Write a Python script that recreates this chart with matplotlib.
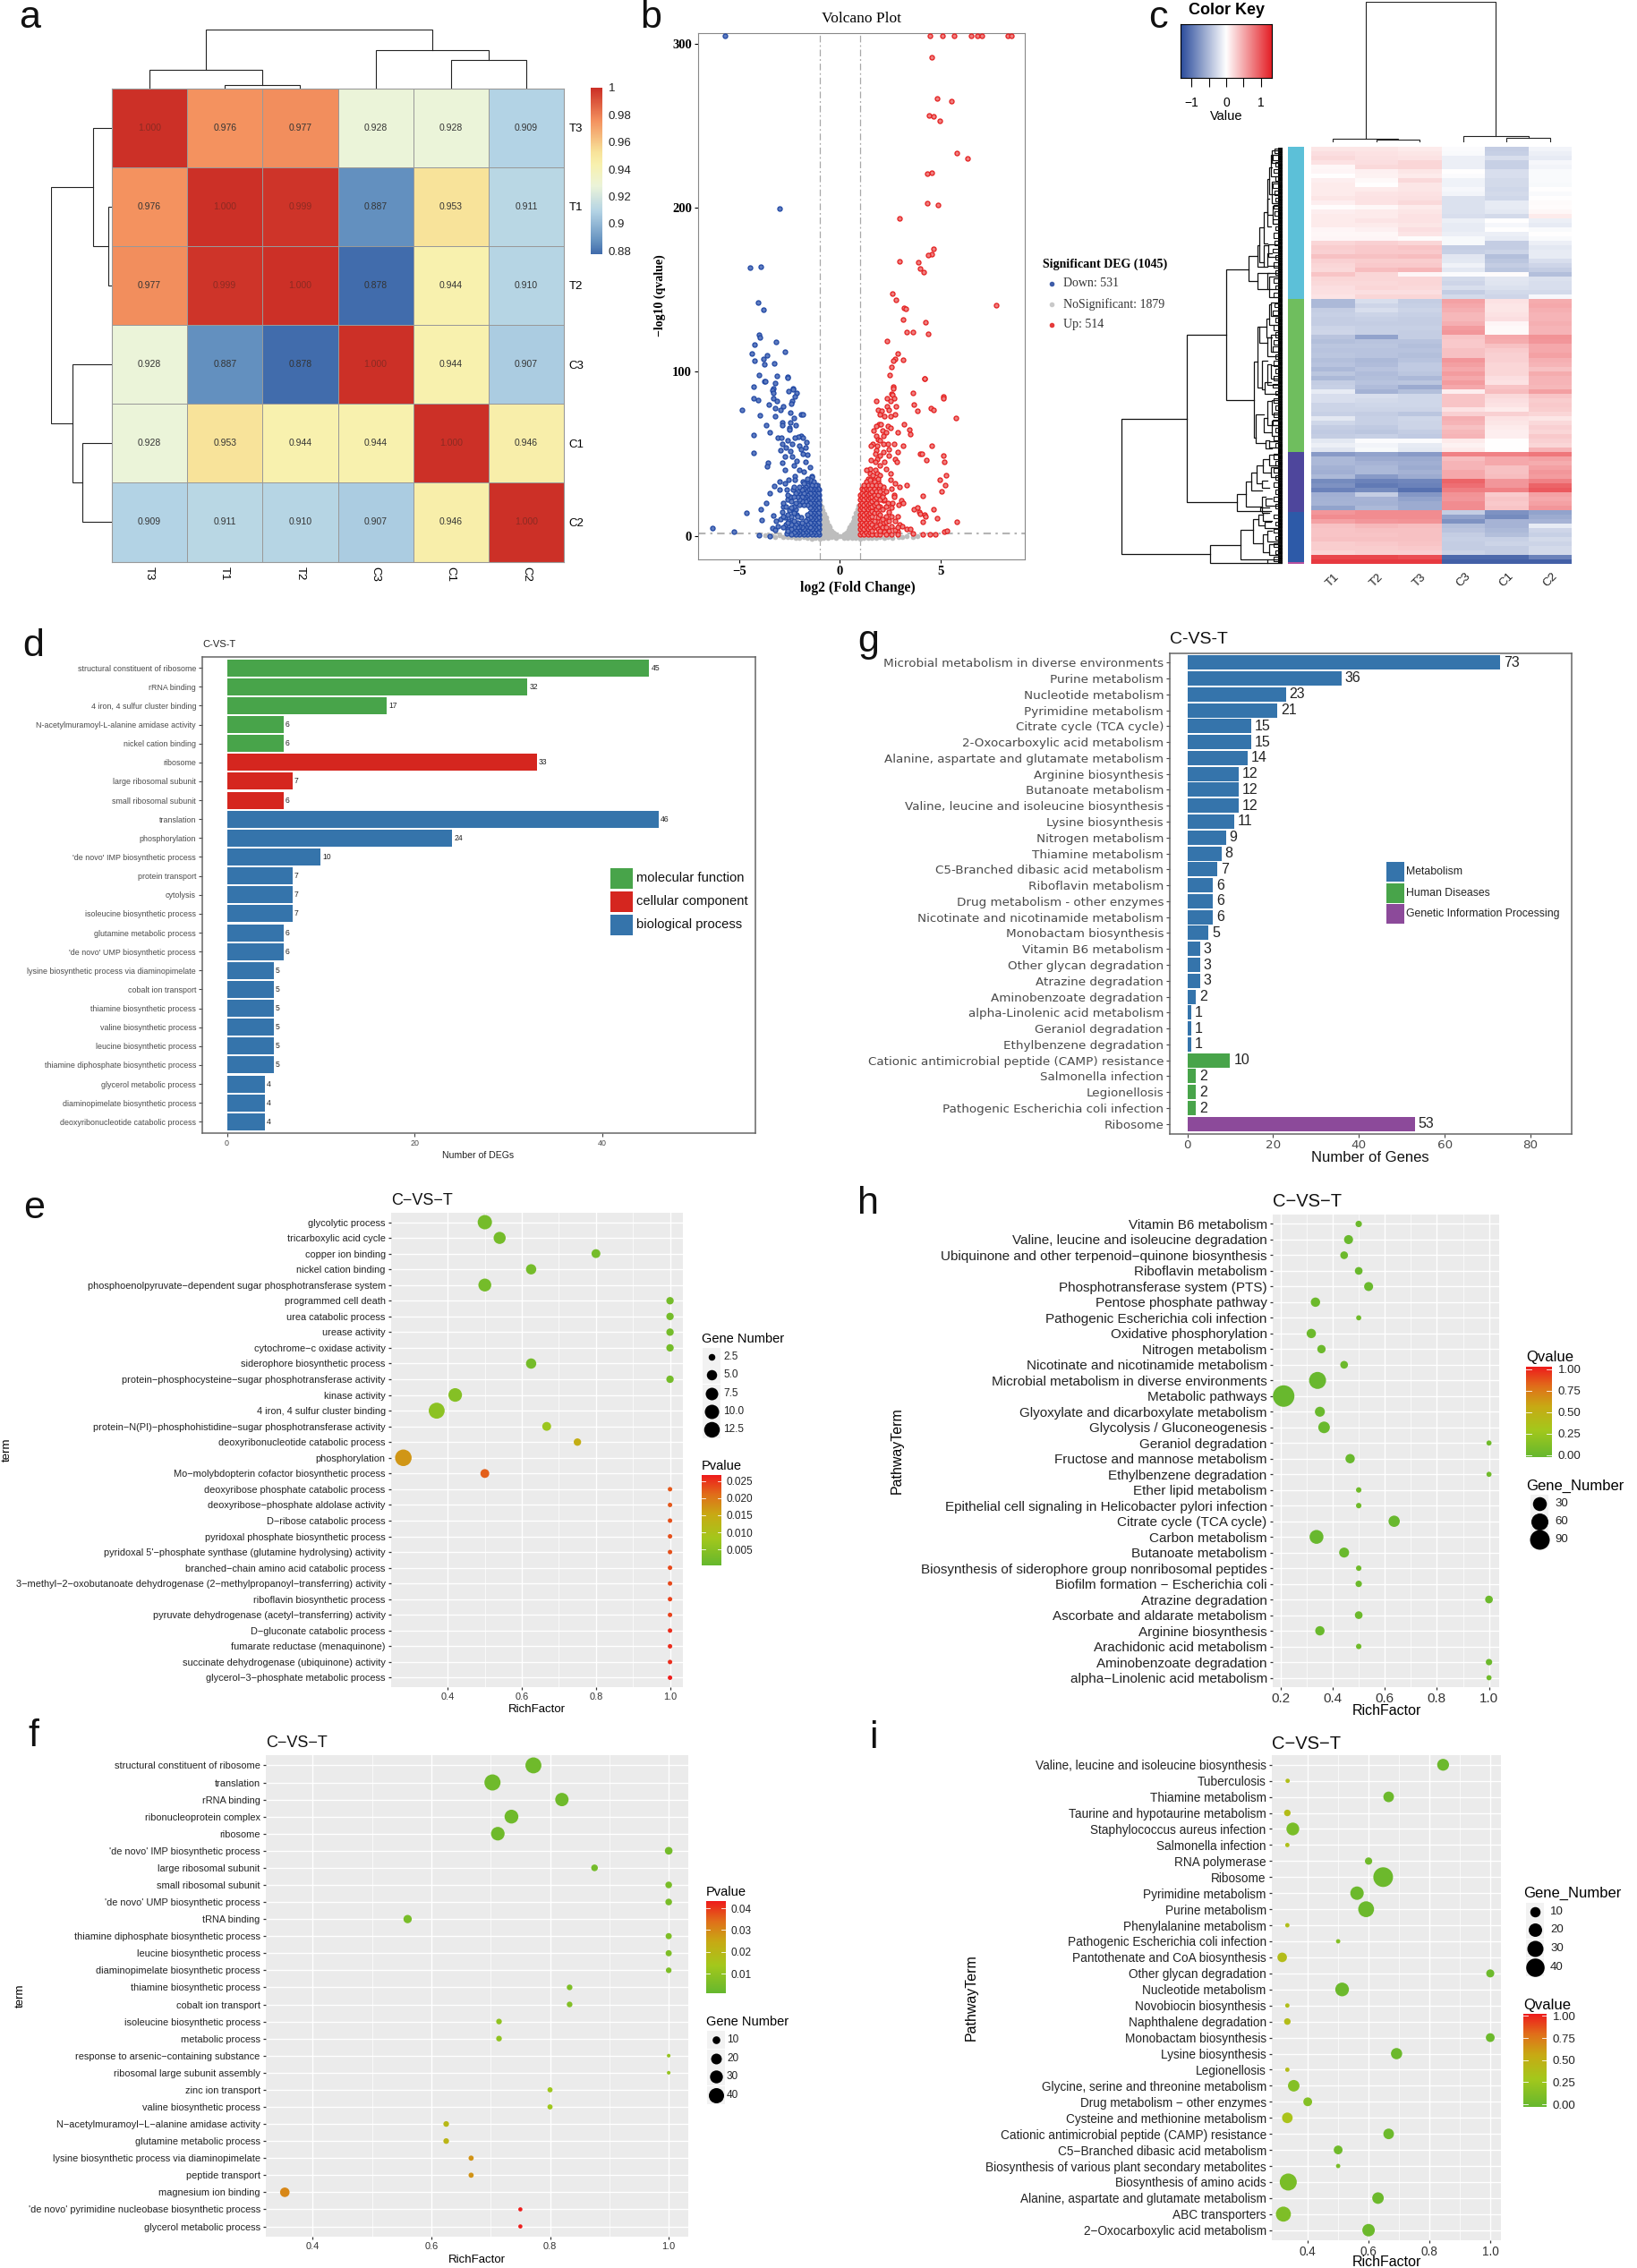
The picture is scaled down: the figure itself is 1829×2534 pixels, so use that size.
import numpy as np
import matplotlib
matplotlib.use('Agg')
import matplotlib.pyplot as plt
from matplotlib.colors import LinearSegmentedColormap, Normalize
from matplotlib.patches import Rectangle

plt.rcParams['font.family'] = ['Liberation Sans', 'DejaVu Sans']
SERIF = ['Liberation Serif', 'DejaVu Serif']
W, H = 1829, 2534

# ---------- a: correlation heatmap
samples_a = ['T3', 'T1', 'T2', 'C3', 'C1', 'C2']
corr = [[1.000, 0.976, 0.977, 0.928, 0.928, 0.909],
        [0.976, 1.000, 0.999, 0.887, 0.953, 0.911],
        [0.977, 0.999, 1.000, 0.878, 0.944, 0.910],
        [0.928, 0.887, 0.878, 1.000, 0.944, 0.907],
        [0.928, 0.953, 0.944, 0.944, 1.000, 0.946],
        [0.909, 0.911, 0.910, 0.907, 0.946, 1.000]]
tree_a = (150, (47, 0, (9, 1, 2)), (98, 3, (73, 4, 5)))

# ---------- b: volcano
up_points = [(4.47,305),(5.08,305),(5.65,305),(6.5,305),(6.8,305),(7.05,305),(8.34,305),(8.5,305),
    (4.57,292),(4.82,267),(5.53,265),(4.44,256.5),(4.66,256),(4.95,253),(5.78,233.5),(6.33,230),
    (4.54,221.6),(4.35,221),(4.35,202.7),(4.86,201.8),(2.97,193.5),(4.66,175),(4.54,172),(4.38,171.4),
    (2.97,167.4),(3.87,166.7),(3.96,163),(4.15,161),(2.59,147.5),(2.78,144),(7.76,140.7),(3.2,139),
    (3.25,138.5),(3.13,132),(4.25,130),(3.64,124.3),(3.32,124),(4.38,123.4),(2.33,119),(2.88,111),
    (2.75,107.7),(3.13,107.5),(2.65,106.6),(2.56,103),(2.46,98.3),(4.22,95.7),(2.65,90.7),(2.56,86.4),
    (5.11,85),(3.64,87),(4.2,96),(2.66,90),(3.65,80),(2.62,86),(5.13,84),(2.32,84),(2.69,84),(2.53,82),
    (1.82,82),(2.8,79),(2.34,79),(1.88,77),(2.41,77),(4.51,78),(4.66,77),(3.85,76),(2.07,76),(2.0,74),
    (2.51,73),(2.74,74),(2.22,73),(5.74,72),(1.92,68),(2.03,68),(1.82,67),(2.38,67),(3.17,68),(2.51,66),
    (3.45,65),(1.66,64),(2.1,64),(2.29,63),(2.88,63),(3.49,62),(1.82,61),(2.17,61),(1.89,59),(2.0,58),
    (1.61,56),(2.38,56),(2.68,56),(2.14,56),(1.85,55),(3.12,55),(4.54,55),(1.55,55),(2.44,53),(1.79,52),
    (2.17,51),(2.86,51),(1.75,50),(2.44,49),(3.99,50),(4.07,50),(5.12,49),(2.0,49),(1.85,47),(2.74,47),
    (2.81,45),(4.3,46),(5.18,45),(1.55,46),(1.78,45),(2.22,45),(2.0,43),(1.48,41),(2.29,41),(2.51,38),
    (1.78,40),(1.33,40),(5.25,37),(1.85,38),(1.48,38),(1.63,37),(2.0,37),(1.4,35),(1.72,34),(1.9,33),
    (4.96,34),(2.51,34),(2.74,32),(2.97,30),(3.33,31),(5.24,31),(5.06,27),(2.14,30),(1.92,29),(4.11,24.5),
    (2.7,25),(2.7,24),(2.17,26),(3.03,21.5),(3.15,20),(2.91,19),(2.59,20),(2.38,20),(2.14,21.5),
    (1.85,19),(2.0,18),(2.22,22),(2.44,14.5),(2.74,9),(2.14,8),(2.29,8.5),(2.44,9),(2.96,7),(3.11,6),
    (3.33,4.4),(3.48,3.9),(3.62,1.7),(2.88,2.6),(2.74,3.5),(2.44,3.1),(2.22,2.6),(2.0,7),(1.85,9),
    (3.65,16),(3.85,17),(3.92,14.5),(3.99,13.6),(4.19,12.7),(4.25,12),(4.66,16.4),(4.84,10.9),(4.1,8.7),
    (5.78,8.5),(5.19,2.6),(5.33,3),(4.75,1),(4.48,.7),(4.11,.7)]
up_columns = [(1.02,[1,4,7,10,13,16,19,22,25]),(1.1,[2,5,8,11,14,17,20,23,26,29]),(1.2,[1,4,7,10,13,16,19,22,25,28,31]),
    (1.3,[2,5,8,11,14,17,20,23,26,29,33]),(1.4,[1,4,7,10,13,16,19,22,25,28,31]),(1.5,[2,5,8,11,14,17,20,23,26,29,34]),
    (1.6,[1,3,7,12,15,18,21,24,27,31]),(1.7,[5,9,14,19,22,25,29,33]),(1.8,[1,6,16,20,23,27,31]),(1.9,[4,11,14,18,25,35]),
    (2.0,[1,3,13,22,27,31]),(2.1,[5,10,16,24]),(2.3,[1,5,12,18,27]),(2.55,[1,6,12,17,29]),(2.85,[1,5,12])]
down_points = [(-5.72,305),(-2.97,199.4),(-4.44,163.4),(-3.93,164),(-4.06,142.5),(-3.8,137.8),(-3.99,122.7),
    (-3.96,120.8),(-4.25,116.5),(-3.16,118.4),(-2.72,112.2),(-4.35,111),(-3.61,110.3),(-4.25,107),(-3.8,107.7),
    (-3.74,104.4),(-3.26,105),(-4.03,98),(-3.13,97.6),(-2.59,96.8),(-3.74,94.2),(-4.28,90.7),(-3.32,90),(-2.33,90),
    (-2.6,96.5),(-3.7,94),(-3.21,93),(-4.27,84),(-3.33,89),(-3.31,87),(-2.34,89.5),(-2.56,88),(-2.16,87),(-2.25,85),
    (-4.05,83),(-3.28,84),(-3.11,82),(-2.35,82),(-2.41,80.5),(-3.51,80),(-2.81,79),(-3.21,78),(-2.96,77),(-4.84,76.6),
    (-2.44,75),(-1.92,74),(-1.85,74),(-3.96,73.7),(-3.21,73),(-2.26,72),(-2.47,69),(-2.84,69),(-3.67,67.6),(-2.88,67.6),
    (-2.2,67.4),(-2.51,66),(-2.51,64.6),(-3.46,63),(-4.29,61.5),(-3.08,60),(-2.9,60),(-1.92,61),(-2.07,60.5),(-2.22,59.7),
    (-1.85,60),(-2.59,58),(-2.88,56),(-2.37,56),(-1.66,57),(-2.0,55),(-2.66,53.6),(-2.96,52.3),(-1.7,54),(-1.92,53),
    (-4.29,50.6),(-2.44,51.4),(-1.85,50),(-1.63,49.5),(-2.74,48.6),(-2.37,48.6),(-3.55,44.4),(-3.62,42.5),(-2.88,44.4),
    (-2.14,45.9),(-1.7,45),(-2.29,43),(-1.48,42),(-2.74,40),(-2.0,40),(-1.78,39),(-1.41,36.6),(-2.22,36.6),(-2.99,33),
    (-2.56,34.4),(-2.74,32),(-2.22,34),(-3.27,30.4),(-3.0,28),(-3.48,26),(-2.62,28.4),(-2.32,28.4),(-1.85,33),(-1.63,32),
    (-1.33,31.5),(-1.11,31),(-3.65,20),(-3.92,16),(-4.64,14),(-3.89,9.6),(-3.31,12.3),(-6.32,4.6),(-5.27,2.4),(-4.0,.4),
    (-3.48,0),(-3.36,4.8),(-3.18,9),(-2.96,10),(-2.81,17.7),(-2.66,18),(-2.88,14.5),(-2.59,22),(-2.44,24),(-2.74,11),
    (-2.51,15.5),(-2.29,14.5),(-2.14,12.7),(-1.92,11),(-2.59,4.4),(-3.2,3.5),(-3.1,6),(-2.7,7),(-2.55,9),(-2.4,8),(-2.62,1.5)]
down_columns = [(-1.02,[1,4,7,10,13,16,19,22,25,28]),(-1.1,[2,5,8,11,14,17,20,23,26,29]),(-1.2,[1,4,7,10,13,16,19,22,25,28,31]),
    (-1.3,[2,5,8,11,14,17,20,23,26,29,33]),(-1.4,[1,4,7,10,13,16,19,22,25,28,31,36]),(-1.5,[2,5,8,11,14,17,20,23,26,29,34]),
    (-1.6,[1,3,7,10,13,19,22,25,28,31,35]),(-1.7,[2,5,9,21,24,27,30]),(-1.8,[1,4,7,19,23,26,29,32]),(-1.9,[2,5,8,21,24,28]),
    (-2.0,[1,3,6,19,22,26,30]),(-2.1,[2,5,8,12,24,27]),(-2.2,[1,3,7,16,20,26]),(-2.3,[2,5,9,14,18,24,30]),(-2.42,[1,4,7,12,17,21]),
    (-2.6,[3,8,13,25]),(-2.8,[5,12,20])]
ns_columns = [(-1,[1,4,7,10,13,16,19,21]),(-.92,[0,3,6,9,12,15,18]),(-.85,[1,4,7,10,13,15.5]),(-.78,[0,3,6,9,12,13.5]),
    (-.7,[1,4,7,9.5,11]),(-.63,[0,3,6,8.5]),(-.56,[1,4,6.5]),(-.49,[0,2.5,5]),(-.42,[1,3.2]),(-.35,[0,2]),(-.28,[.5,1.2]),
    (-.2,[0,.7]),(-.1,[0]),(0,[-.4]),(.1,[0]),(.2,[0,.7]),(.28,[.5,1.3]),(.35,[0,2.2]),(.42,[1,3.4]),(.49,[0,2.5,5.2]),
    (.56,[1,4,6.8]),(.63,[0,3,6,8.8]),(.7,[1,4,7,9.5,11.2]),(.78,[0,3,6,9,12,13.8]),(.85,[1,4,7,10,13,16]),(.92,[0,3,6,9,12,15,18.5]),
    (1,[1,4,7,10,13,16,19,22])]
ns_band = [(-3.7,.3),(-3.4,.2),(-3.2,-.5),(-3,.4),(-2.8,-.9),(-2.6,-.5),(-2.4,-1),(-2.2,-1.4),(-2,-1.5),(-1.8,-1),(-1.6,-1.4),(-1.4,-1.6),(-1.2,-1.2),
    (-1,-1.6),(-.8,-1.2),(-.6,-1.5),(-.4,-1),(-.2,-1.2),(.2,-1.1),(.4,-1.3),(.6,-1.5),(.8,-1.1),(1,-1.6),(1.2,-1.3),(1.4,-1.5),(1.6,-1.2),
    (1.8,-1.5),(2,-1),(2.2,-1.3),(2.4,-.9),(2.6,-1.2),(2.9,-.6),(3.1,-.8),(3.3,-.4),(3.6,-.8),(3.85,0)]

# ---------- c: clustered expression rows, columns T1 T2 T3 C3 C1 C2
samples_c = ['T1', 'T2', 'T3', 'C3', 'C1', 'C2']
rows_c = [
 [.12,.12,.10,-.02,-.30,-.06],[.16,.14,.12,-.03,-.28,-.10],[.18,.15,.14,-.10,-.20,-.12],[.14,.16,.20,-.10,-.28,-.05],
 [.04,.18,.20,-.10,-.28,-.06],[.05,.07,.12,0,-.20,-.03],[0,.06,.10,-.02,-.20,-.03],[.08,.03,.18,-.08,-.22,-.03],
 [.10,0,.12,-.08,-.22,-.04],[.10,.10,.12,-.05,-.24,0],[.10,.13,.14,-.06,-.22,-.03],[.12,.14,.15,-.18,-.24,0],
 [.08,.14,.18,-.18,-.12,.02],[.01,.04,.10,-.18,-.12,.01],[.08,.10,.12,-.18,-.14,.04],[.10,.10,.14,-.20,-.22,.10],
 [.10,.13,.14,-.10,0,-.10],[.10,.10,.12,-.12,-.05,-.12],[.05,.07,.16,-.12,0,-.03],[.04,.04,.13,-.10,-.10,0],
 [.05,.05,.02,-.04,-.12,-.03],[.20,.22,.20,-.04,-.30,-.10],[.24,.26,.28,-.30,-.30,-.14],[.22,.26,.26,-.28,-.26,-.12],
 [.30,.30,.32,-.15,-.38,-.12],[.22,.24,.24,-.14,-.34,-.20],[.20,.26,.26,-.08,-.30,-.25],[.18,.32,.35,-.14,-.34,-.30],
 [.28,.20,.05,-.02,.02,-.38],[.20,.20,.20,-.22,-.15,-.18],[.18,.18,.20,-.25,-.16,-.20],[.16,.20,.18,-.20,-.18,-.20],
 [.15,.16,.16,-.30,-.22,-.22],[.13,.20,.20,-.22,-.25,-.05],
 [-.42,-.20,-.30,.45,.14,.40],[-.42,-.25,-.28,.42,.12,.42],[-.30,-.20,-.26,.38,.12,.38],[-.28,-.26,-.28,.34,.14,.36],
 [-.30,-.28,-.30,.34,.16,.36],[-.30,-.30,-.30,.38,.05,.38],[-.26,-.28,-.28,.48,.03,.36],[-.25,-.28,-.30,.50,.03,.36],
 [-.35,-.55,-.30,.28,.42,.52],[-.38,-.36,-.36,.26,.40,.50],[-.34,-.34,-.38,.26,.30,.42],[-.36,-.36,-.36,.30,.25,.42],
 [-.34,-.36,-.38,.30,.22,.45],[-.38,-.42,-.36,.50,.22,.38],[-.36,-.40,-.32,.46,.20,.36],[-.42,-.36,-.32,.42,.20,.30],
 [-.34,-.40,-.34,.48,.20,.40],[-.42,-.38,-.42,.42,.16,.36],[-.30,-.36,-.34,.48,.14,.36],[-.28,-.40,-.50,.42,.28,.34],
 [-.12,-.46,-.38,.08,.32,.46],[-.20,-.20,-.24,.28,.18,.28],[-.20,-.22,-.24,.28,.16,.24],[-.26,-.24,-.24,.28,.14,.26],
 [-.26,-.26,-.26,.14,.10,.24],[-.28,-.30,-.34,.22,.22,.20],[-.14,-.28,-.24,.38,.14,.12],[-.24,-.28,-.26,.36,.12,.18],
 [-.30,-.32,-.26,.30,.10,.22],[-.32,-.34,-.30,.34,.08,.20],[-.30,-.28,-.32,.36,.08,.26],[-.14,-.02,-.02,.10,0,.22],
 [-.10,-.06,-.12,.06,0,.20],[-.16,-.04,-.14,.10,0,.36],
 [-.60,-.55,-.60,.60,.60,.65],[-.42,-.50,-.50,.32,.42,.45],[-.42,-.45,-.48,.36,.42,.40],[-.46,-.42,-.50,.36,.30,.45],
 [-.48,-.42,-.46,.42,.30,.50],[-.42,-.60,-.50,.42,.32,.48],[-.70,-.75,-.72,.75,.50,.60],[-.65,-.80,-.75,.70,.50,.75],
 [-.75,-.70,-.85,.62,.60,.80],[-.48,-.30,-.62,.52,.25,.45],[-.46,-.45,-.55,.50,.28,.42],[-.45,-.46,-.50,.55,.26,.45],
 [-.55,-.42,-.50,.55,.28,.50],
 [.50,.55,.55,-.30,-.65,-.55],[.55,.55,.55,-.55,-.70,-.50],[.45,.50,.52,-.65,-.45,-.45],[.30,.34,.32,-.38,-.45,-.12],
 [.28,.30,.30,-.35,-.42,-.25],[.28,.28,.30,-.30,-.38,-.28],[.30,.30,.30,-.28,-.28,-.22],[.24,.26,.28,-.30,-.26,-.26],
 [.24,.24,.26,-.30,-.30,-.22],[.20,.22,.22,-.26,-.30,-.22],
 [.88,.88,.85,-.90,-.90,-.75],[.95,.95,.95,-.95,-.95,-.95]]
tree_c = (361, (9, 0, (8, 1, 2)), (16, 3, (12, 4, 5)))
cluster_heights = [170, 171, 67, 56, 2]
cluster_colors = ['#5cc0d8', '#6fbe5e', '#4e469c', '#2d5aa8', '#b54f9e']
# bracket: position, top, bottom, top child, bottom child
brackets_c = [(38,953,1407,258,337),(258,672,1233,392,428),(392,452,890,467,484),(467,408,492,496,497),(496,372,445,502,516),
    (502,313,430,516,518),(516,262,365,528,530),(528,215,310,535,540),(530,150,270,535,545),(535,110,200,545,548),(540,70,140,548,552),
    (545,55,95,555,558),(545,160,230,556,560),(548,240,300,556,560),(518,373,445,533,530),(533,370,410,550,555),(530,400,440,545,550),
    (497,465,520,534,528),(534,478,545,552,555),(528,465,520,548,552),(484,763,1018,497,490),(497,645,850,502,510),(502,645,700,525,530),
    (525,618,680,535,545),(535,570,640,542,555),(540,565,610,555,558),(530,680,745,540,550),(540,672,730,552,558),(510,760,855,528,520),
    (528,770,840,542,548),(542,775,820,552,556),(520,830,870,540,556),(490,940,1035,518,522),(518,950,1000,530,545),(530,895,975,544,548),
    (544,890,940,555,560),(545,960,1010,556,560),(522,1025,1052,535,545),(535,1030,1050,550,556),(428,1206,1263,457,505),(457,1165,1247,475,510),
    (475,1135,1195,493,510),(493,1110,1170,515,510),(515,1090,1135,535,540),(535,1075,1110,548,556),(540,1115,1150,552,558),(510,1160,1185,530,535),
    (510,1215,1270,522,530),(522,1220,1245,545,550),(505,1250,1263,535,540),(337,1378,1437,438,530),(438,1327,1425,480,530),(480,1290,1370,498,515),
    (498,1275,1310,515,520),(515,1270,1295,535,545),(520,1300,1320,540,550),(515,1340,1400,530,535),(530,1330,1365,545,550),(535,1375,1410,552,556),
    (530,1425,1437,550,555)]
# short end branches next to the leaves: position, top, bottom
twigs_c = [(552,48,62),(548,68,86),(556,92,108),(550,118,130),(555,140,156),(546,166,180),(552,188,205),(557,212,226),(549,238,250),(554,258,274),
    (548,286,300),(556,308,322),(550,330,348),(554,356,372),(547,384,396),(556,404,420),(550,430,446),(555,456,470),(549,482,498),(556,506,520),
    (551,530,546),(553,566,580),(547,590,606),(555,616,630),(549,640,656),(556,664,680),(551,690,704),(547,712,728),(555,738,752),(549,760,776),
    (556,786,800),(551,810,826),(547,836,850),(555,860,874),(549,884,900),(556,908,924),(551,934,948),(547,958,974),(555,984,1000),(550,1010,1026),
    (556,1036,1050),(551,1072,1088),(556,1096,1110),(549,1120,1134),(555,1144,1158),(551,1168,1182),(556,1192,1206),(549,1216,1230),(555,1240,1254),
    (551,1274,1288),(556,1298,1312),(549,1322,1336),(555,1346,1360),(551,1370,1384),(556,1394,1408),(550,1416,1430)]

# ---------- d: GO bars
terms_d = ['structural constituent of ribosome','rRNA binding','4 iron, 4 sulfur cluster binding',
    'N-acetylmuramoyl-L-alanine amidase activity','nickel cation binding','ribosome','large ribosomal subunit',
    'small ribosomal subunit','translation','phosphorylation',"'de novo' IMP biosynthetic process",'protein transport',
    'cytolysis','isoleucine biosynthetic process','glutamine metabolic process',"'de novo' UMP biosynthetic process",
    'lysine biosynthetic process via diaminopimelate','cobalt ion transport','thiamine biosynthetic process',
    'valine biosynthetic process','leucine biosynthetic process','thiamine diphosphate biosynthetic process',
    'glycerol metabolic process','diaminopimelate biosynthetic process','deoxyribonucleotide catabolic process']
counts_d = [45,32,17,6,6,33,7,6,46,24,10,7,7,7,6,6,5,5,5,5,5,5,4,4,4]
groups_d = [0,0,0,0,0,1,1,1,2,2,2,2,2,2,2,2,2,2,2,2,2,2,2,2,2]
group_names_d = ['molecular function','cellular component','biological process']
group_colors_d = ['#48a44a','#d5261f','#3574ab']

# ---------- g: KEGG bars
terms_g = ['Microbial metabolism in diverse environments','Purine metabolism','Nucleotide metabolism','Pyrimidine metabolism',
    'Citrate cycle (TCA cycle)','2-Oxocarboxylic acid metabolism','Alanine, aspartate and glutamate metabolism','Arginine biosynthesis',
    'Butanoate metabolism','Valine, leucine and isoleucine biosynthesis','Lysine biosynthesis','Nitrogen metabolism','Thiamine metabolism',
    'C5-Branched dibasic acid metabolism','Riboflavin metabolism','Drug metabolism - other enzymes','Nicotinate and nicotinamide metabolism',
    'Monobactam biosynthesis','Vitamin B6 metabolism','Other glycan degradation','Atrazine degradation','Aminobenzoate degradation',
    'alpha-Linolenic acid metabolism','Geraniol degradation','Ethylbenzene degradation','Cationic antimicrobial peptide (CAMP) resistance',
    'Salmonella infection','Legionellosis','Pathogenic Escherichia coli infection','Ribosome']
counts_g = [73,36,23,21,15,15,14,12,12,12,11,9,8,7,6,6,6,5,3,3,3,2,1,1,1,10,2,2,2,53]
groups_g = [0]*25 + [1]*4 + [2]
group_names_g = ['Metabolism','Human Diseases','Genetic Information Processing']
group_colors_g = ['#3574ab','#48a44a','#8c4a9a']

# ---------- e: GO enrichment
terms_e = ['glycolytic process','tricarboxylic acid cycle','copper ion binding','nickel cation binding',
    'phosphoenolpyruvate-dependent sugar phosphotransferase system','programmed cell death','urea catabolic process','urease activity',
    'cytochrome-c oxidase activity','siderophore biosynthetic process','protein-phosphocysteine-sugar phosphotransferase activity',
    'kinase activity','4 iron, 4 sulfur cluster binding','protein-N(PI)-phosphohistidine-sugar phosphotransferase activity',
    'deoxyribonucleotide catabolic process','phosphorylation','Mo-molybdopterin cofactor biosynthetic process',
    'deoxyribose phosphate catabolic process','deoxyribose-phosphate aldolase activity','D-ribose catabolic process',
    'pyridoxal phosphate biosynthetic process',"pyridoxal 5'-phosphate synthase (glutamine hydrolysing) activity",
    'branched-chain amino acid catabolic process','3-methyl-2-oxobutanoate dehydrogenase (2-methylpropanoyl-transferring) activity',
    'riboflavin biosynthetic process','pyruvate dehydrogenase (acetyl-transferring) activity','D-gluconate catabolic process',
    'fumarate reductase (menaquinone)','succinate dehydrogenase (ubiquinone) activity','glycerol-3-phosphate metabolic process']
rich_e = [.5,.54,.8,.625,.5,1,1,1,1,.625,1,.42,.37,.667,.75,.28,.5,1,1,1,1,1,1,1,1,1,1,1,1,1]
pval_e = [.002,.002,.002,.002,.002,.002,.002,.002,.002,.002,.002,.004,.005,.007,.014,.017,.022,
          .0225,.0225,.023,.023,.023,.0235,.0235,.024,.024,.0255,.0255,.0255,.0265]
genes_e = [10,7,4,5,8,3,3,3,3,5,3,9,13,4,3,14,4,1,1,1,1,1,1,1,1,1,1,1,1,1]

# ---------- f: GO enrichment
terms_f = ['structural constituent of ribosome','translation','rRNA binding','ribonucleoprotein complex','ribosome',
    "'de novo' IMP biosynthetic process",'large ribosomal subunit','small ribosomal subunit',"'de novo' UMP biosynthetic process",'tRNA binding',
    'thiamine diphosphate biosynthetic process','leucine biosynthetic process','diaminopimelate biosynthetic process',
    'thiamine biosynthetic process','cobalt ion transport','isoleucine biosynthetic process','metabolic process',
    'response to arsenic-containing substance','ribosomal large subunit assembly','zinc ion transport','valine biosynthetic process',
    'N-acetylmuramoyl-L-alanine amidase activity','glutamine metabolic process','lysine biosynthetic process via diaminopimelate',
    'peptide transport','magnesium ion binding',"'de novo' pyrimidine nucleobase biosynthetic process",'glycerol metabolic process']
rich_f = [.772,.703,.82,.735,.712,1,.875,1,1,.56,1,1,1,.833,.833,.714,.714,1,1,.8,.8,.625,.625,.667,.667,.353,.75,.75]
pval_f = [.002,.002,.002,.002,.002,.003,.003,.004,.004,.004,.005,.005,.005,.005,.006,.009,.009,.01,.01,.012,.012,.019,.02,.028,.028,.03,.043,.043]
genes_f = [45,46,32,34,33,10,8,8,8,12,7,7,6,6,6,6,6,2,2,5,5,6,6,5,5,16,3,3]

# ---------- h: pathway enrichment
terms_h = ['Vitamin B6 metabolism','Valine, leucine and isoleucine degradation','Ubiquinone and other terpenoid-quinone biosynthesis',
    'Riboflavin metabolism','Phosphotransferase system (PTS)','Pentose phosphate pathway','Pathogenic Escherichia coli infection',
    'Oxidative phosphorylation','Nitrogen metabolism','Nicotinate and nicotinamide metabolism','Microbial metabolism in diverse environments',
    'Metabolic pathways','Glyoxylate and dicarboxylate metabolism','Glycolysis / Gluconeogenesis','Geraniol degradation',
    'Fructose and mannose metabolism','Ethylbenzene degradation','Ether lipid metabolism','Epithelial cell signaling in Helicobacter pylori infection',
    'Citrate cycle (TCA cycle)','Carbon metabolism','Butanoate metabolism','Biosynthesis of siderophore group nonribosomal peptides',
    'Biofilm formation - Escherichia coli','Atrazine degradation','Ascorbate and aldarate metabolism','Arginine biosynthesis',
    'Arachidonic acid metabolism','Aminobenzoate degradation','alpha-Linolenic acid metabolism']
rich_h = [.5,.461,.444,.5,.538,.334,.5,.318,.357,.444,.342,.212,.351,.367,1,.467,1,.5,.5,.636,.338,.444,.5,.5,1,.5,.351,.5,1,1]
qval_h = [.03,.02,.03,.02,.02,.03,.05,.03,.03,.03,.01,.01,.02,.02,.05,.02,.05,.05,.05,.01,.01,.02,.05,.03,.03,.03,.02,.05,.03,.05]
genes_h = [7,15,11,11,15,16,3,16,13,11,60,120,18,23,3,16,3,4,4,22,30,18,4,7,11,11,16,4,7,3]

# ---------- i: pathway enrichment
terms_i = ['Valine, leucine and isoleucine biosynthesis','Tuberculosis','Thiamine metabolism','Taurine and hypotaurine metabolism',
    'Staphylococcus aureus infection','Salmonella infection','RNA polymerase','Ribosome','Pyrimidine metabolism','Purine metabolism',
    'Phenylalanine metabolism','Pathogenic Escherichia coli infection','Pantothenate and CoA biosynthesis','Other glycan degradation',
    'Nucleotide metabolism','Novobiocin biosynthesis','Naphthalene degradation','Monobactam biosynthesis','Lysine biosynthesis','Legionellosis',
    'Glycine, serine and threonine metabolism','Drug metabolism - other enzymes','Cysteine and methionine metabolism',
    'Cationic antimicrobial peptide (CAMP) resistance','C5-Branched dibasic acid metabolism','Biosynthesis of various plant secondary metabolites',
    'Biosynthesis of amino acids','Alanine, aspartate and glutamate metabolism','ABC transporters','2-Oxocarboxylic acid metabolism']
rich_i = [.845,.334,.666,.333,.351,.333,.6,.648,.562,.592,.333,.5,.316,1,.513,.333,.333,1,.692,.333,.354,.4,.333,.666,.5,.5,.336,.631,.32,.6]
qval_i = [.03,.4,.03,.42,.1,.38,.05,.03,.03,.03,.4,.15,.42,.04,.03,.4,.42,.03,.03,.42,.15,.15,.35,.04,.05,.1,.1,.03,.12,.03]
genes_i = [15,2,11,5,18,2,6,45,20,29,2,2,9,7,21,2,5,8,13,2,14,8,11,11,8,2,34,14,26,17]

fig = plt.figure(figsize=(W / 100, H / 100), dpi=100, facecolor='white')
over = fig.add_axes([0, 0, 1, 1], zorder=10)
over.set_xlim(0, W)
over.set_ylim(H, 0)
over.axis('off')


def px_axes(x0, y0, x1, y1):
    return fig.add_axes([x0 / W, 1 - y1 / H, (x1 - x0) / W, (y1 - y0) / H])


def label(x, y, s, **kw):
    kw.setdefault('va', 'center')
    over.text(x, y, s, **kw)


def draw_tree(ax, node, horizontal, lw=0.8):
    # returns leaf-axis position and height of the node
    if not isinstance(node, tuple):
        return node + 0.5, 0
    h, a, b = node
    pa, ha = draw_tree(ax, a, horizontal, lw)
    pb, hb = draw_tree(ax, b, horizontal, lw)
    xs, ys = [pa, pa, pb, pb], [ha, h, h, hb]
    if horizontal:
        ax.plot(xs, ys, color='#222222', lw=lw, solid_joinstyle='miter')
    else:
        ax.plot(ys, xs, color='#222222', lw=lw, solid_joinstyle='miter')
    return (pa + pb) / 2, h


def expand(points, columns):
    rows = list(points)
    for x, ys in columns:
        rows += [(x, y) for y in ys]
    return np.array(rows)


for letter, x, y in [('a', 33, 20), ('b', 727, 20), ('c', 1294, 20), ('d', 37, 722), ('g', 970, 717),
                     ('e', 38, 1350), ('h', 970, 1345), ('f', 37, 1940), ('i', 976, 1942)]:
    label(x, y, letter, fontsize=31, ha='center', color='#111111')

# panel a
cmap_a = LinearSegmentedColormap.from_list('corr', [(0, '#416cac'), (.075, '#6592c0'), (.254, '#b3d3e5'), (.41, '#ecf4d9'),
                                                    (.54, '#f8f1ae'), (.615, '#f8e39a'), (.803, '#f4925f'), (1, '#cc3027')])
ax = px_axes(125, 98.5, 630, 627.5)
ax.pcolormesh(np.array(corr), cmap=cmap_a, vmin=.878, vmax=1, edgecolors='#999999', linewidth=0.7)
ax.set_xlim(0, 6)
ax.set_ylim(6, 0)
for i, row in enumerate(corr):
    for j, v in enumerate(row):
        ax.text(j + .5, i + .5, f'{v:.3f}', ha='center', va='center', fontsize=7.5, color='#8c2a22' if v > .99 else '#333333')
ax.set_xticks(np.arange(6) + .5, samples_a, rotation=270, fontsize=9.5)
ax.yaxis.tick_right()
ax.set_yticks(np.arange(6) + .5, samples_a, fontsize=9.5)
ax.tick_params(length=0, pad=4)
for s in ax.spines.values():
    s.set_color('#999999')
ax = px_axes(125, 33, 630, 98.5)
draw_tree(ax, tree_a, True)
ax.set_xlim(0, 6)
ax.set_ylim(0, 150)
ax.axis('off')
ax = px_axes(57, 98.5, 125, 627.5)
draw_tree(ax, tree_a, False)
ax.set_ylim(6, 0)
ax.set_xlim(150, 0)
ax.axis('off')


def color_strip(box, cmap, vmin, vmax, ticks, texts, fs, pad=4, marks=True):
    ax = px_axes(*box)
    ax.imshow(np.linspace(vmax, vmin, 200)[:, None], aspect='auto', cmap=cmap, extent=[0, 1, vmin, vmax],
              norm=Normalize(vmin, vmax))
    ax.set_xticks([])
    ax.yaxis.tick_right()
    ax.set_yticks(ticks, texts, fontsize=fs)
    ax.tick_params(length=0, pad=pad, colors='#222222')
    for s in ax.spines.values():
        s.set_visible(False)
    if marks:
        for t in ticks:
            ax.plot([0, .2], [t, t], color='white', lw=.6)
            ax.plot([.8, 1], [t, t], color='white', lw=.6)
    ax.set_xlim(0, 1)
    ax.set_ylim(vmin, vmax)


color_strip((660, 98, 673, 284), cmap_a, .8775, 1.0, [.88, .9, .92, .94, .96, .98, 1],
            ['0.88', '0.9', '0.92', '0.94', '0.96', '0.98', '1'], 9.5, pad=5, marks=False)

# panel b
ax = px_axes(780, 37, 1145, 625)
ns = expand(ns_band, ns_columns)
ax.scatter(ns[:, 0], ns[:, 1], s=17, color='#bdbdbd', linewidths=0, zorder=2)
ax.axvline(-1, color='#a8a8a8', lw=.9, dashes=(6, 2.5, 1.5, 2.5), zorder=1)
ax.axvline(1, color='#a8a8a8', lw=.9, dashes=(6, 2.5, 1.5, 2.5), zorder=1)
ax.axhline(1.3, color='#b4b4b4', lw=1.5, dashes=(4, 2.5, 1.2, 2.5), zorder=1)
for pts, cols, edge, face in [(down_points, down_columns, '#234aa5', '#5f7cc0'), (up_points, up_columns, '#e52222', '#ee8080')]:
    p = expand(pts, cols)
    ax.scatter(p[:, 0], p[:, 1], s=13, facecolor=face, edgecolor=edge, linewidths=.95, zorder=3, clip_on=False)
ax.set_xlim(-7.03, 9.17)
ax.set_ylim(-14.4, 306.6)
ax.set_xticks([-5, 0, 5])
ax.set_yticks([0, 100, 200, 300])
for t in ax.get_xticklabels() + ax.get_yticklabels():
    t.set_family(SERIF)
    t.set_fontweight('bold')
    t.set_fontsize(10.5)
ax.tick_params(length=3, width=.8, pad=2)
for s in ax.spines.values():
    s.set_color('#888888')
    s.set_linewidth(.8)
label(963, 21, 'Volcano Plot', family=SERIF, fontsize=12.5, ha='center')
label(958, 657, 'log2 (Fold Change)', family=SERIF, fontweight='bold', fontsize=11.3, ha='center')
label(737, 330, '\u2212log10 (qvalue)', family=SERIF, fontweight='bold', fontsize=10, ha='center', rotation=90)
label(1165, 295, 'Significant DEG (1045)', family=SERIF, fontweight='bold', fontsize=10.1)
for text, y, color in [('Down: 531', 317, '#2a4ba0'), ('NoSignificant: 1879', 340, '#c4c4c4'), ('Up: 514', 362.5, '#e32626')]:
    over.scatter([1175], [y], s=11, facecolor=color, edgecolor=color, alpha=.9, linewidths=.7)
    label(1188, y, text, family=SERIF, fontsize=10, color='#333333')

# panel c
cmap_c = LinearSegmentedColormap.from_list('key', ['#2a4b9b', '#ffffff', '#e41f26'])
ax = px_axes(1465, 164, 1756, 630)
ax.pcolormesh(np.array(rows_c), cmap=cmap_c, vmin=-1.08, vmax=1.08, linewidth=0, rasterized=True)
ax.set_ylim(len(rows_c), 0)
ax.axis('off')
ax = px_axes(1439, 164, 1457, 630)
ax.barh(np.cumsum(cluster_heights) - np.array(cluster_heights) / 2, 1, height=cluster_heights, color=cluster_colors)
ax.set_ylim(sum(cluster_heights), 0)
ax.set_xlim(0, 1)
ax.axis('off')
ax = px_axes(1465, 2, 1756, 159)
draw_tree(ax, tree_c, True)
ax.set_xlim(0, 6)
ax.set_ylim(0, 361)
ax.axis('off')
ax = px_axes(1240, 150, 1433, 640)
ax.set_xlim(0, 580)
ax.set_ylim(1470, 0)
ax.axis('off')
for x, y0, y1, c0, c1 in brackets_c:
    c0 = 580 if c0 >= 548 else c0
    c1 = 580 if c1 >= 548 else c1
    ax.plot([c0, x, x, c1], [y0, y0, y1, y1], color='#111111', lw=.9, solid_joinstyle='miter')
for x, y0, y1 in twigs_c:
    ax.plot([580, x, x, 580], [y0, y0, y1, y1], color='#111111', lw=.8, solid_joinstyle='miter')
ax.add_patch(Rectangle((566, 45), 14, 1395, color='black', lw=0))
for i, name in enumerate(samples_c):
    label(1465 + 48.5 * (i + .5), 648, name, fontsize=9.5, ha='center', rotation=45, color='#222222')
ax = px_axes(1319, 27, 1421, 87)
ax.imshow(np.linspace(-1.31, 1.31, 256)[None, :], aspect='auto', cmap=cmap_c, extent=[-1.31, 1.31, 0, 1], vmin=-1.31, vmax=1.31)
ax.set_yticks([])
ax.set_xticks([-1, -.5, 0, .5, 1], ['\u22121', '', '0', '', '1'], fontsize=10)
ax.tick_params(length=7, width=.8, pad=8)
label(1370, 130, 'Value', fontsize=10.5, ha='center')
label(1370, 12, 'Color Key', fontsize=13, fontweight='bold', ha='center')


def bar_panel(box, terms, counts, groups, colors, xlim, xticks, tick_family, tick_fs, value_fs, value_pad):
    ax = px_axes(*box)
    y = np.arange(len(terms))
    ax.barh(y, counts, height=.9, color=[colors[g] for g in groups])
    for yi, c in zip(y, counts):
        ax.text(c + value_pad, yi, str(c), va='center', ha='left', fontsize=value_fs, color='#222222')
    ax.set_xlim(*xlim)
    ax.set_ylim(len(terms) - .4, -.6)
    ax.set_xticks(xticks)
    ax.set_yticks(y, terms)
    for t in ax.get_xticklabels() + ax.get_yticklabels():
        t.set_family(tick_family)
        t.set_fontsize(tick_fs)
        t.set_color('#4a4a4a')
    ax.tick_params(length=3, width=.8, color='#444444', pad=2)
    for s in ax.spines.values():
        s.set_color('#666666')
        s.set_linewidth(1.1)
    return ax


def bar_legend(x, tops, names, colors, w, h, text_x, **kw):
    for top, name, color in zip(tops, names, colors):
        over.add_patch(Rectangle((x, top), w, h, color=color, lw=0))
        label(text_x, top + h / 2, name, **kw)


# panel d
bar_panel((226, 733.5, 844, 1266), terms_d, counts_d, groups_d, group_colors_d, (-2.63, 56.3), [0, 20, 40], ['Liberation Sans'], 6.4, 6.2, .2)
bar_legend(682, [969.5, 995.5, 1021.5], group_names_d, group_colors_d, 25, 23.5, 711, fontsize=10.6, color='#111111')
label(226, 720, 'C-VS-T', fontsize=8, color='#222222')
label(534, 1291, 'Number of DEGs', fontsize=7.6, ha='center', color='#222222')

# panel g
bar_panel((1307, 729.5, 1756, 1266.5), terms_g, counts_g, groups_g, group_colors_g, (-4.07, 89.6), [0, 20, 40, 60, 80], ['DejaVu Sans'], 9.7, 11.5, .8)
bar_legend(1549, [963, 987, 1010], group_names_g, group_colors_g, 19.5, 22, 1571, fontsize=8.8, color='#222222')
label(1307, 714.5, 'C-VS-T', fontsize=14, color='#111111')
label(1531, 1293, 'Number of Genes', fontsize=12, ha='center', color='#111111')

# enrichment dots
cmap_dot = LinearSegmentedColormap.from_list('dot', [(0, '#66b82e'), (.3, '#a4c81c'), (.56, '#c8aa14'), (.78, '#e0701a'), (1, '#ee1c1c')])


def dot_size(genes, g_scale, d_scale):
    return (np.interp(genes, g_scale, d_scale) * .72) ** 2


def dot_panel(box, terms, rich, color_val, genes, vmax, g_scale, d_scale, xlim, xticks, fs):
    ax = px_axes(*box)
    ax.set_facecolor('#ebebeb')
    n = len(terms)
    y = np.arange(n)
    ax.set_axisbelow(True)
    ax.set_xlim(*xlim)
    ax.set_ylim(n - .4, -.6)
    ax.set_xticks(xticks)
    ax.set_xticks((np.array(xticks[:-1]) + np.array(xticks[1:])) / 2, minor=True)
    ax.set_yticks(y, [t.replace('-', '\u2212') for t in terms], fontsize=fs, color='#222222')
    ax.grid(True, which='major', color='white', lw=1.0)
    ax.grid(True, which='minor', axis='x', color='white', lw=.5)
    ax.tick_params(axis='both', which='major', length=2.5, width=.9, pad=2, color='#333333')
    ax.tick_params(axis='x', which='major', labelsize=fs, labelcolor='#333333')
    ax.tick_params(axis='both', which='minor', length=0)
    for s in ax.spines.values():
        s.set_visible(False)
    ax.scatter(rich, y, s=dot_size(genes, g_scale, d_scale), c=color_val, cmap=cmap_dot, vmin=0, vmax=vmax, linewidths=0, zorder=3, clip_on=False)
    return ax


def size_legend(x, ys, names, g_scale, d_scale, text_x, fs):
    for y, name in zip(ys, names):
        over.add_patch(Rectangle((x - 10, y - 10), 20, 20, color='#f2f2f2', lw=0))
        over.scatter([x], [y], s=dot_size(float(name), g_scale, d_scale), color='black', linewidths=0, zorder=5)
        label(text_x, y, name, fontsize=fs, color='#222222')


# panel e
g_e, d_e = [1, 2.5, 5, 7.5, 10, 12.5, 14], [5, 7.5, 11.5, 14, 16, 17.5, 18.5]
dot_panel((437, 1355, 763.5, 1885), terms_e, rich_e, pval_e, genes_e, .0267, g_e, d_e, (.247, 1.036), [.4, .6, .8, 1.0], 7.9)
label(437, 1342, 'C\u2212VS\u2212T', fontsize=13, color='#111111')
label(600, 1910, 'RichFactor', fontsize=9.5, ha='center')
label(8, 1620, 'term', fontsize=9.5, rotation=90, ha='center')
label(784, 1496, 'Gene Number', fontsize=10.5)
size_legend(795, [1516, 1536, 1556.5, 1577, 1597], ['2.5', '5.0', '7.5', '10.0', '12.5'], g_e, d_e, 808, 8.5)
label(784, 1638, 'Pvalue', fontsize=10.5)
color_strip((784, 1648, 806, 1749), cmap_dot, .0004, .0267, [.005, .01, .015, .02, .025], ['0.005', '0.010', '0.015', '0.020', '0.025'], 8.5)

# panel f
g_f, d_f = [1, 10, 20, 30, 40, 46], [3.5, 8.6, 12, 14.4, 17, 18]
dot_panel((297, 1961, 769, 2499), terms_f, rich_f, pval_f, genes_f, .0433, g_f, d_f, (.321, 1.033), [.4, .6, .8, 1.0], 7.9)
label(297, 1948, 'C\u2212VS\u2212T', fontsize=13, color='#111111')
label(533, 2525, 'RichFactor', fontsize=9.5, ha='center')
label(23, 2230, 'term', fontsize=9.5, rotation=90, ha='center')
label(789, 2114, 'Pvalue', fontsize=10.5)
color_strip((789, 2124, 810.5, 2227), cmap_dot, .001, .0433, [.01, .02, .03, .04], ['0.01', '0.02', '0.03', '0.04'], 8.5)
label(789, 2259, 'Gene Number', fontsize=10.5)
size_legend(800, [2279, 2300, 2320, 2341], ['10', '20', '30', '40'], g_f, d_f, 812, 8.5)

# panel h
g_h, d_h = [1, 30, 60, 90, 120], [5, 15.5, 19, 22, 24]
dot_panel((1422, 1357, 1675, 1885), terms_h, rich_h, qval_h, genes_h, 1.03, g_h, d_h, (.17, 1.039), [.2, .4, .6, .8, 1.0], 11)
label(1422, 1343, 'C\u2212VS\u2212T', fontsize=14.5, color='#111111')
label(1549, 1911, 'RichFactor', fontsize=11.5, ha='center')
label(1002, 1621, 'PathwayTerm', fontsize=11.5, rotation=90, ha='center')
label(1705, 1517, 'Qvalue', fontsize=12)
color_strip((1705, 1527, 1734, 1628), cmap_dot, -.024, 1.03, [0, .25, .5, .75, 1], ['0.00', '0.25', '0.50', '0.75', '1.00'], 9.5, pad=5)
label(1705, 1660, 'Gene_Number', fontsize=12)
size_legend(1720, [1680, 1700, 1720], ['30', '60', '90'], g_h, d_h, 1737, 9.5)

# panel i
g_i, d_i = [1, 10, 20, 30, 40, 45], [4, 11.5, 15, 18, 20.6, 22]
dot_panel((1421, 1961, 1676.6, 2502.5), terms_i, rich_i, qval_i, genes_i, 1.025, g_i, d_i, (.282, 1.034), [.4, .6, .8, 1.0], 9.8)
label(1421, 1948, 'C\u2212VS\u2212T', fontsize=14.5, color='#111111')
label(1549, 2528, 'RichFactor', fontsize=11.5, ha='center')
label(1085, 2232, 'PathwayTerm', fontsize=11.5, rotation=90, ha='center')
label(1702, 2115, 'Gene_Number', fontsize=12)
size_legend(1715, [2136, 2156, 2177, 2198], ['10', '20', '30', '40'], g_i, d_i, 1732, 9.5)
label(1702, 2240, 'Qvalue', fontsize=12)
color_strip((1702, 2250, 1728, 2354), cmap_dot, -.03, 1.025, [0, .25, .5, .75, 1], ['0.00', '0.25', '0.50', '0.75', '1.00'], 9.5, pad=5)

fig.savefig('out.png', dpi=100)
